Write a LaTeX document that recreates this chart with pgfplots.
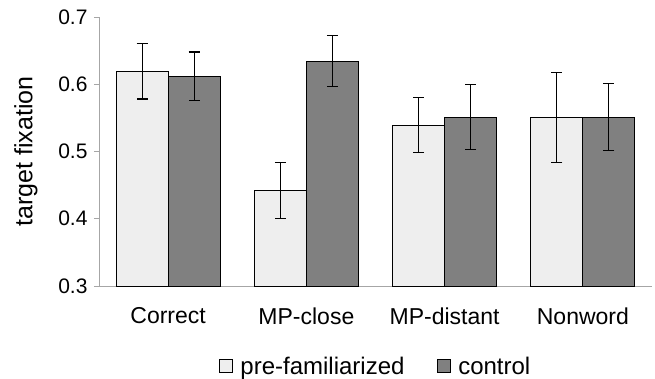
\documentclass[border=0pt]{standalone}
\usepackage{fontspec}
\setmainfont{Liberation Sans}
\usepackage{pgfplots}
\pgfplotsset{compat=1.18}
\definecolor{lightbar}{HTML}{EEEEEE}
\definecolor{darkbar}{HTML}{808080}
\definecolor{axisgray}{HTML}{A6A6A6}
\begin{document}
\begin{tikzpicture}
\begin{axis}[
  at={(0,0)}, anchor=south west,
  scale only axis,
  width=553bp, height=269bp,
  xmin=-0.5, xmax=3.5,
  ymin=0.3, ymax=0.7,
  ytick={0.3,0.4,0.5,0.6,0.7},
  yticklabel style={/pgf/number format/fixed,/pgf/number format/precision=1,/pgf/number format/fixed zerofill},
  /pgf/number format/assume math mode=true,
  xtick=data,
  xticklabels={Correct,MP-close,MP-distant,Nonword},
  axis x line*=bottom,
  axis y line*=left,
  axis line style={axisgray, line width=0.9bp, -},
  major tick length=5bp,
  ytick style={axisgray, line width=0.9bp},
  xtick style={draw=none},
  tick align=outside,
  yticklabel style={font=\fontsize{21bp}{25bp}\selectfont, xshift=-3bp},
  xticklabel style={font=\fontsize{23bp}{27bp}\selectfont, yshift=-13bp},
  ylabel={target fixation},
  ylabel style={font=\fontsize{25bp}{29bp}\selectfont, at={(axis description cs:-0.132,0.5)}, anchor=center},
  ybar=0pt,
  bar width=52bp,
  legend style={at={(0.5,-0.25)}, anchor=north, draw=none, legend columns=2,
    font=\fontsize{24bp}{28bp}\selectfont,
    /tikz/every odd column/.append style={column sep=6bp},
    /tikz/every even column/.append style={column sep=30bp}},
  legend image code/.code={\draw[#1, draw=black, line width=0.8bp] (0bp,-6bp) rectangle (13bp,7bp);},
  error bars/error bar style={black, line width=1.1bp},
  error bars/error mark options={rotate=90, black, line width=1.1bp, mark size=5.5bp},
]
\addplot[fill=lightbar, draw=black, line width=1bp,
  error bars/.cd, y dir=both, y explicit]
  coordinates {
    (0,0.619) +- (0,0.041)
    (1,0.442) +- (0,0.042)
    (2,0.539) +- (0,0.041)
    (3,0.550) +- (0,0.067)
  };
\addlegendentry{pre-familiarized}
\addplot[fill=darkbar, draw=black, line width=1bp,
  error bars/.cd, y dir=both, y explicit]
  coordinates {
    (0,0.612) +- (0,0.036)
    (1,0.634) +- (0,0.038)
    (2,0.551) +- (0,0.048)
    (3,0.551) +- (0,0.050)
  };
\addlegendentry{control}
\end{axis}
\pgfresetboundingbox
\path (-99bp,-93bp) rectangle (556bp,286bp);
\end{tikzpicture}
\end{document}
